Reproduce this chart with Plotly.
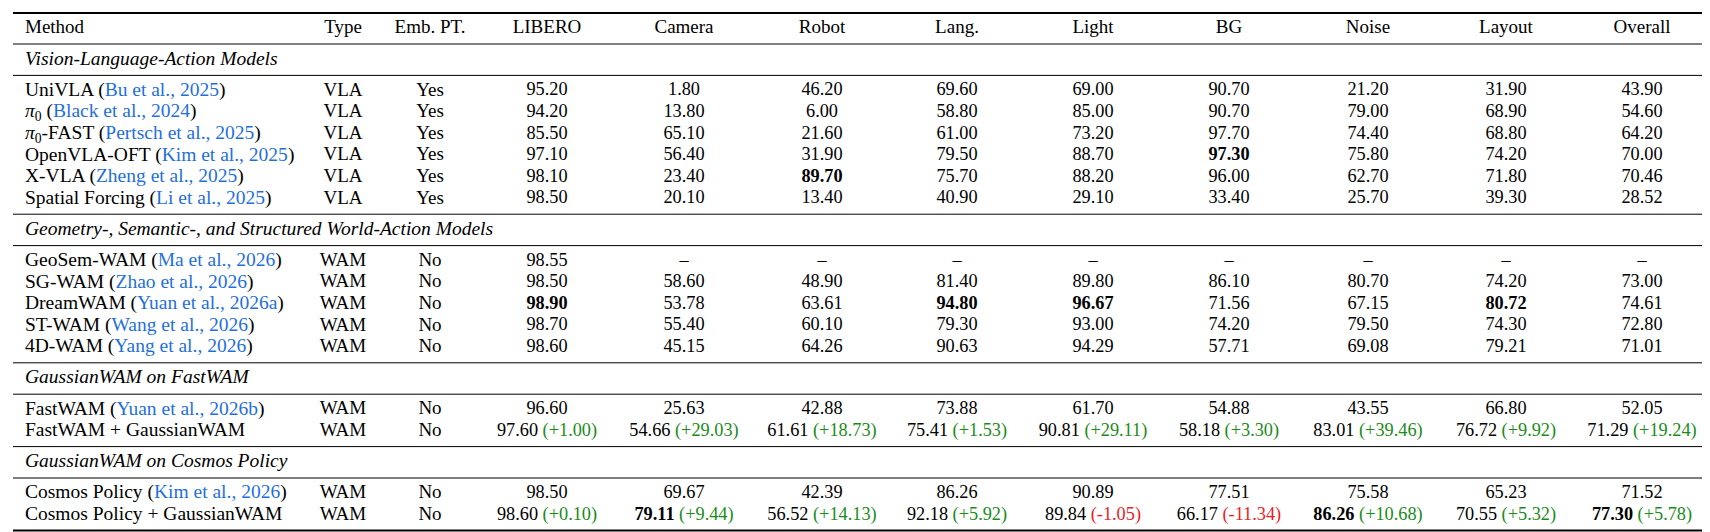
import plotly.graph_objects as go

# ---- table content ----
columns = ["Method", "Type", "Emb. PT.", "LIBERO", "Camera", "Robot", "Lang.",
           "Light", "BG", "Noise", "Layout", "Overall"]

section_titles = [
    "Vision-Language-Action Models",
    "Geometry-, Semantic-, and Structured World-Action Models",
    "GaussianWAM on FastWAM",
    "GaussianWAM on Cosmos Policy",
]

vla_methods = ["UniVLA", "<i>π</i><sub>0</sub>", "<i>π</i><sub>0</sub>-FAST", "OpenVLA-OFT", "X-VLA", "Spatial Forcing"]
vla_cites = ["Bu et al., 2025", "Black et al., 2024", "Pertsch et al., 2025",
             "Kim et al., 2025", "Zheng et al., 2025", "Li et al., 2025"]
vla_scores = [
    [95.20, 1.80, 46.20, 69.60, 69.00, 90.70, 21.20, 31.90, 43.90],
    [94.20, 13.80, 6.00, 58.80, 85.00, 90.70, 79.00, 68.90, 54.60],
    [85.50, 65.10, 21.60, 61.00, 73.20, 97.70, 74.40, 68.80, 64.20],
    [97.10, 56.40, 31.90, 79.50, 88.70, 97.30, 75.80, 74.20, 70.00],
    [98.10, 23.40, 89.70, 75.70, 88.20, 96.00, 62.70, 71.80, 70.46],
    [98.50, 20.10, 13.40, 40.90, 29.10, 33.40, 25.70, 39.30, 28.52],
]

wam_methods = ["GeoSem-WAM", "SG-WAM", "DreamWAM", "ST-WAM", "4D-WAM"]
wam_cites = ["Ma et al., 2026", "Zhao et al., 2026", "Yuan et al., 2026a",
             "Wang et al., 2026", "Yang et al., 2026"]
wam_scores = [
    [98.55, None, None, None, None, None, None, None, None],
    [98.50, 58.60, 48.90, 81.40, 89.80, 86.10, 80.70, 74.20, 73.00],
    [98.90, 53.78, 63.61, 94.80, 96.67, 71.56, 67.15, 80.72, 74.61],
    [98.70, 55.40, 60.10, 79.30, 93.00, 74.20, 79.50, 74.30, 72.80],
    [98.60, 45.15, 64.26, 90.63, 94.29, 57.71, 69.08, 79.21, 71.01],
]

fast_methods = ["FastWAM", "FastWAM + GaussianWAM"]
fast_cites = ["Yuan et al., 2026b", None]
fast_scores = [
    [96.60, 25.63, 42.88, 73.88, 61.70, 54.88, 43.55, 66.80, 52.05],
    [97.60, 54.66, 61.61, 75.41, 90.81, 58.18, 83.01, 76.72, 71.29],
]
fast_gain = [1.00, 29.03, 18.73, 1.53, 29.11, 3.30, 39.46, 9.92, 19.24]

cosmos_methods = ["Cosmos Policy", "Cosmos Policy + GaussianWAM"]
cosmos_cites = ["Kim et al., 2026", None]
cosmos_scores = [
    [98.50, 69.67, 42.39, 86.26, 90.89, 77.51, 75.58, 65.23, 71.52],
    [98.60, 79.11, 56.52, 92.18, 89.84, 66.17, 86.26, 70.55, 77.30],
]
cosmos_gain = [0.10, 9.44, 14.13, 5.92, -1.05, -11.34, 10.68, 5.32, 5.78]

# best entries (method, column) shown in bold
best = [("OpenVLA-OFT", "BG"), ("X-VLA", "Robot"),
        ("DreamWAM", "LIBERO"), ("DreamWAM", "Lang."), ("DreamWAM", "Light"), ("DreamWAM", "Layout"),
        ("Cosmos Policy + GaussianWAM", "Camera"), ("Cosmos Policy + GaussianWAM", "Noise"),
        ("Cosmos Policy + GaussianWAM", "Overall")]

sections = [
    (vla_methods, vla_cites, ["VLA"] * 6, ["Yes"] * 6, vla_scores, None),
    (wam_methods, wam_cites, ["WAM"] * 5, ["No"] * 5, wam_scores, None),
    (fast_methods, fast_cites, ["WAM"] * 2, ["No"] * 2, fast_scores, fast_gain),
    (cosmos_methods, cosmos_cites, ["WAM"] * 2, ["No"] * 2, cosmos_scores, cosmos_gain),
]

# ---- styling ----
W, H = 1710, 532
FONT = "Liberation Serif"
FS = 18.3        # numbers
FS_HEAD = 19
FS_LEFT = 19.5   # method names / section titles
BLUE = "#1f6fe0"
GREEN = "#1a8c1a"
RED = "#ee1c25"
col_x = [17, 335, 422, 539, 676, 814, 949, 1085, 1221, 1360, 1498, 1634]
RULE_L, RULE_R = 5, 1704
ROW = 21.6


def fmt_cell(v, gain, bold):
    if v is None:
        return "–"
    s = f"{v:.2f}"
    if bold:
        s = f"<b>{s}</b>"
    if gain is not None:
        if gain >= 0:
            s += f" <span style='color:{GREEN}'>(+{gain:.2f})</span>"
        else:
            s += f" <span style='color:{RED}'>({gain:.2f})</span>"
    return s


rules = []  # (y, width)
sec_y = []
left_x, left_y, left_t = [], [], []
tag_x, tag_y, tag_t = [], [], []
mid_x, mid_y, mid_t = [], [], []

y = 5
rules.append((y, 2.0))
y += 15.5
head_y = y
y += 15.5
rules.append((y, 1.0))

for title, (meths, cites, types, embs, scores, gains) in zip(section_titles, sections):
    y += 15.7
    sec_y.append(y)
    y += 15.7
    rules.append((y, 1.0))
    y += 15.5
    for i, m in enumerate(meths):
        label = m
        if cites[i]:
            label += f" (<span style='color:{BLUE}'>{cites[i]}</span>)"
        left_x.append(col_x[0]); left_y.append(y); left_t.append(label)
        tag_x += [col_x[1], col_x[2]]; tag_y += [y, y]; tag_t += [types[i], embs[i]]
        has_gain = gains is not None and cites[i] is None
        for j, v in enumerate(scores[i]):
            g = gains[j] if has_gain else None
            mid_x.append(col_x[3 + j]); mid_y.append(y)
            mid_t.append(fmt_cell(v, g, (m, columns[3 + j]) in best))
        y += ROW
    y += 15.3 - ROW
    rules.append((y, 1.0))
rules[-1] = (rules[-1][0], 2.0)

fig = go.Figure()
# header row
fig.add_trace(go.Scatter(x=[col_x[0]], y=[head_y], text=[columns[0]], mode="text",
                         textposition="middle right",
                         textfont=dict(family=FONT, size=FS_HEAD, color="black"),
                         hoverinfo="skip"))
fig.add_trace(go.Scatter(x=col_x[1:], y=[head_y] * (len(columns) - 1), text=columns[1:],
                         mode="text", textposition="middle center",
                         textfont=dict(family=FONT, size=FS_HEAD, color="black"),
                         hoverinfo="skip"))
# section titles (italic)
fig.add_trace(go.Scatter(x=[col_x[0]] * len(sec_y), y=sec_y, text=section_titles, mode="text",
                         textposition="middle right",
                         textfont=dict(family=FONT, size=FS_LEFT, color="black", style="italic"),
                         hoverinfo="skip"))
# body
fig.add_trace(go.Scatter(x=left_x, y=left_y, text=left_t, mode="text",
                         textposition="middle right",
                         textfont=dict(family=FONT, size=FS_LEFT, color="black"),
                         hoverinfo="skip"))
fig.add_trace(go.Scatter(x=tag_x, y=tag_y, text=tag_t, mode="text",
                         textposition="middle center",
                         textfont=dict(family=FONT, size=FS_HEAD, color="black"),
                         hoverinfo="skip"))
fig.add_trace(go.Scatter(x=mid_x, y=mid_y, text=mid_t, mode="text",
                         textposition="middle center",
                         textfont=dict(family=FONT, size=FS, color="black"),
                         hoverinfo="skip"))
for ry, lw in rules:
    fig.add_shape(type="line", x0=RULE_L, x1=RULE_R, y0=ry, y1=ry,
                  xref="x", yref="y", line=dict(color="black", width=lw))

fig.update_layout(
    width=W, height=H,
    margin=dict(l=0, r=0, t=0, b=0),
    paper_bgcolor="white", plot_bgcolor="white",
    showlegend=False,
    xaxis=dict(range=[0, W], visible=False, fixedrange=True),
    yaxis=dict(range=[H, 0], visible=False, fixedrange=True),
)

fig.write_html("out.html")
